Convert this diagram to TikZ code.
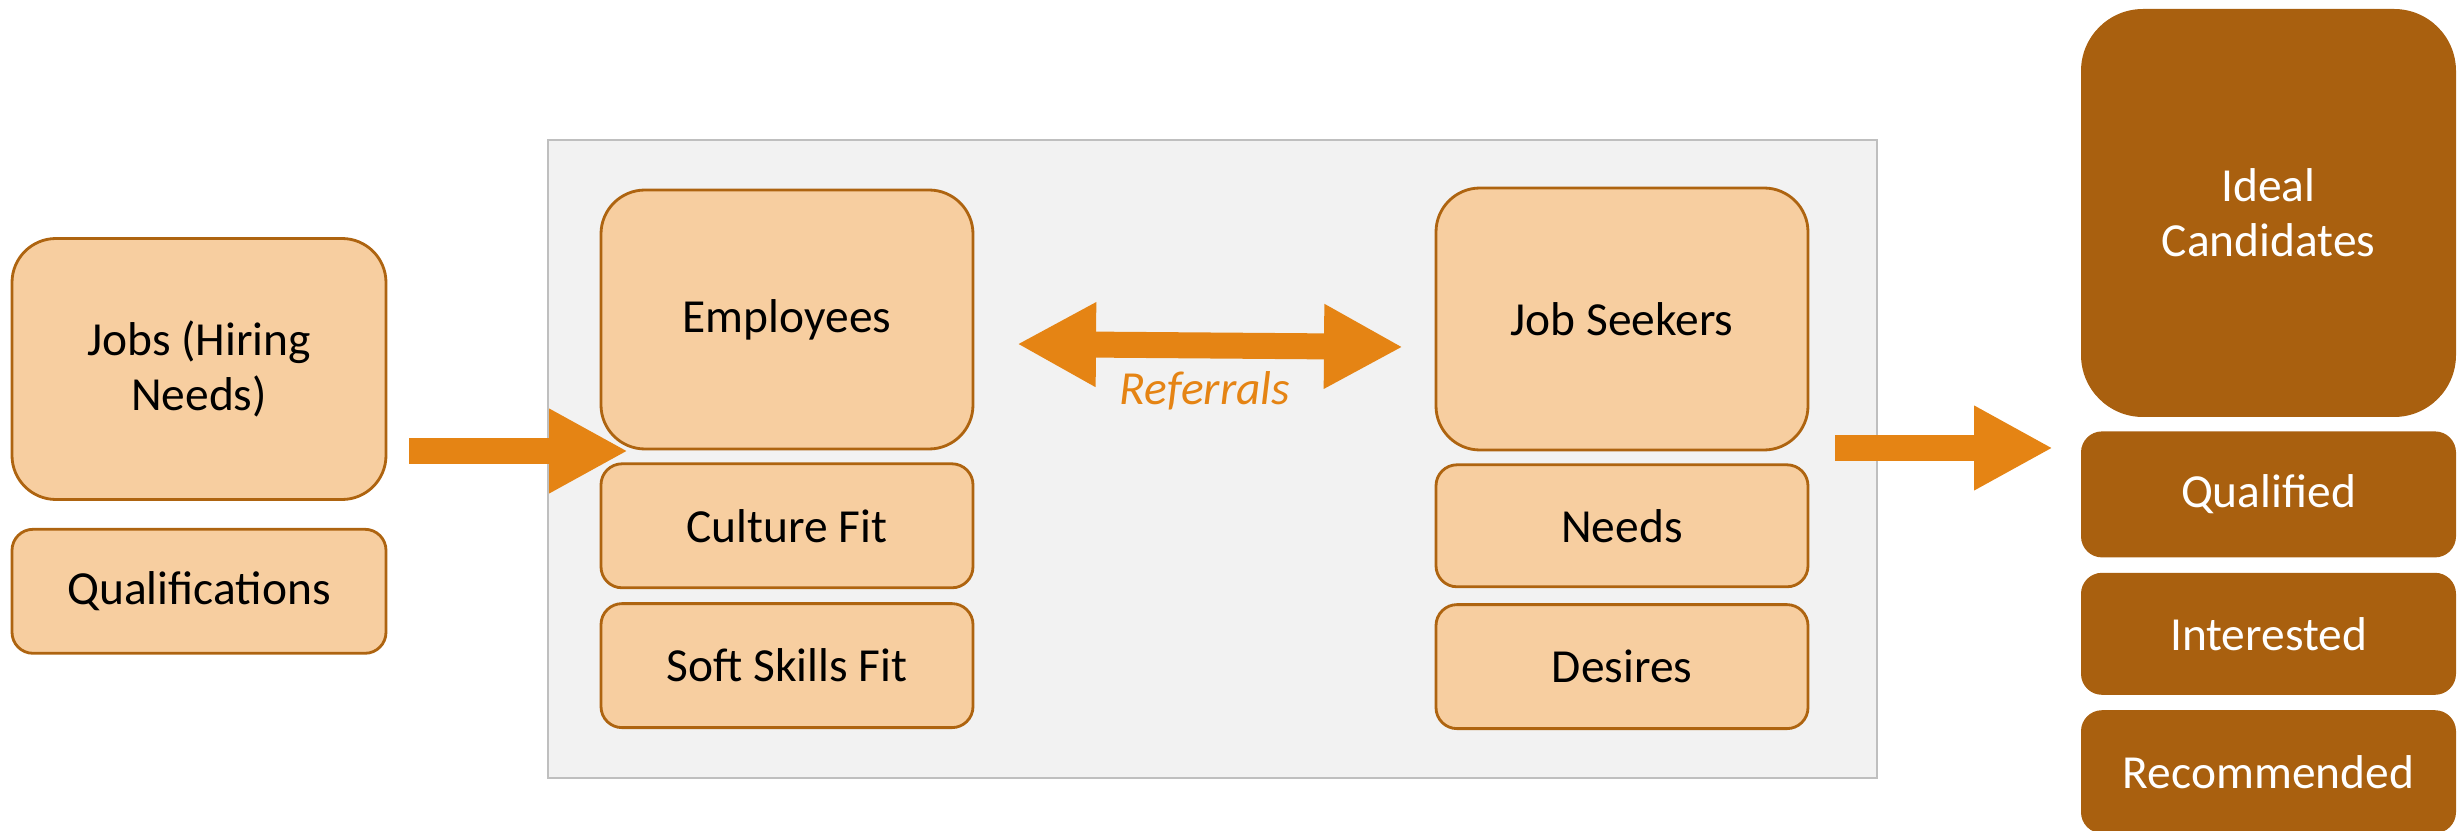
\documentclass[tikz,border=0pt]{standalone}
\usepackage{fontspec}
\setmainfont{Carlito}
\usepackage{xcolor}
\usepackage{tikz}
\usetikzlibrary{arrows.meta,positioning}

\definecolor{boxfill}{HTML}{F7CEA0}
\definecolor{boxline}{HTML}{AE6410}
\definecolor{goalfill}{HTML}{A9600F}
\definecolor{arrowc}{HTML}{E58414}
\definecolor{panelfill}{HTML}{F2F2F2}
\definecolor{panelline}{HTML}{BFBFBF}

\begin{document}
\begin{tikzpicture}[
  font=\fontsize{13.5}{15.6}\selectfont,
  box/.style={draw=boxline,fill=boxfill,line width=0.8pt,align=center,minimum width=3.72cm,inner sep=0pt},
  bigbox/.style={box,minimum height=2.6cm,rounded corners=4.4mm},
  smallbox/.style={box,minimum height=1.24cm,rounded corners=2.1mm},
  goal/.style={fill=goalfill,text=white,align=center,minimum width=3.75cm,minimum height=1.24cm,inner sep=0pt,rounded corners=2.1mm},
  blockarrow/.style={draw=arrowc,line width=2.6mm},
  bighead/.tip={Triangle[length=7.9mm,width=7.9mm]}]
  \useasboundingbox (0,0) rectangle (24.61,8.31);

  % grey panel behind employees and job seekers
  \node[fill=panelfill,draw=panelline,line width=0.6pt,minimum width=13.29cm,minimum height=6.38cm,inner sep=0pt] (panel) at (12.125,3.72) {};

  % hiring side
  \node[bigbox,minimum width=3.74cm,minimum height=2.61cm] (jobs) at (1.99,4.62) {Jobs (Hiring\\Needs)};
  \node[smallbox,minimum width=3.74cm,below=0.27 of jobs] (quals) {Qualifications};

  % employees
  \node[bigbox,minimum height=2.59cm] (empl) at (7.87,5.115) {Employees};
  \node[smallbox,below=0.12 of empl] (culture) {Culture Fit};
  \node[smallbox,below=0.13 of culture] (soft) {Soft Skills Fit};

  % job seekers
  \node[bigbox,minimum height=2.62cm] (seekers) at (16.22,5.12) {Job Seekers};
  \node[smallbox,minimum height=1.22cm,below=0.12 of seekers] (needs) {Needs};
  \node[smallbox,below=0.15 of needs] (desires) {Desires};

  % result
  \node[goal,minimum height=4.08cm,rounded corners=6.2mm] (ideal) at (22.685,6.18) {Ideal\\Candidates};
  \node[goal,minimum height=1.26cm,below=0.13 of ideal] (qualified) {Qualified};
  \node[goal,minimum height=1.22cm,below=0.14 of qualified] (interested) {Interested};
  \node[goal,minimum height=1.23cm,below=0.14 of interested] (recommended) {Recommended};

  % arrows
  \coordinate (in0) at ([xshift=2.2mm]jobs.east |- 0,3.80);
  \coordinate (in1) at (6.28,3.80);
  \draw[blockarrow,-bighead] (in0) -- (in1);

  \coordinate (ref0) at (10.17,4.87);
  \coordinate (ref1) at (14.03,4.84);
  \draw[blockarrow,bighead-bighead] (ref0) -- (ref1);
  \node[anchor=base,text=arrowc,font=\fontsize{13.5}{15.6}\selectfont\itshape] (reflabel) at (12.05,4.26) {Referrals};

  \coordinate (out0) at (18.35,3.83);
  \coordinate (out1) at (20.53,3.83);
  \draw[blockarrow,-bighead] (out0) -- (out1);
\end{tikzpicture}
\end{document}
